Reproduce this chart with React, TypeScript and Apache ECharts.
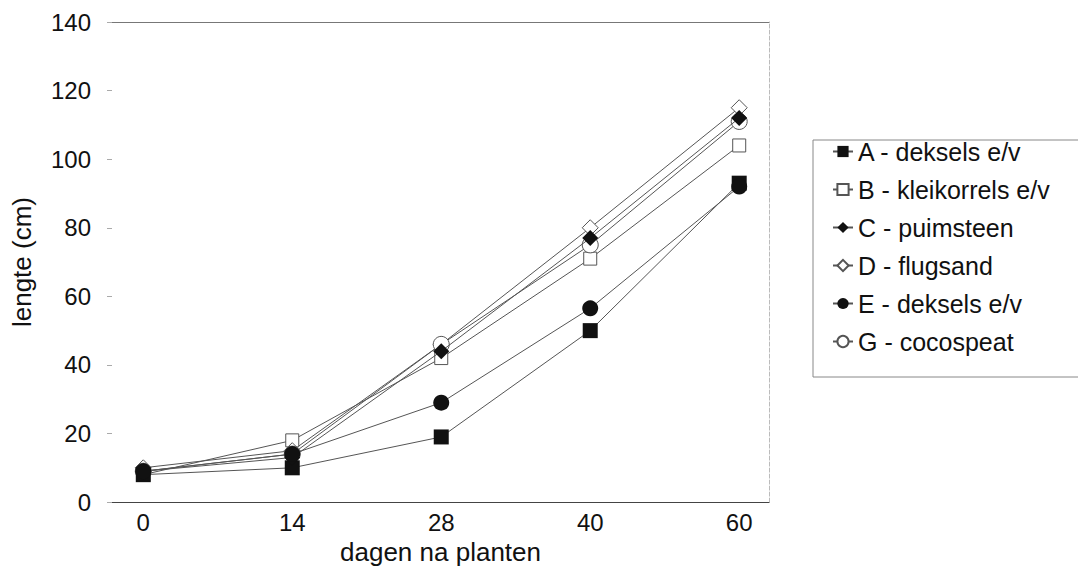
import React, { useEffect, useRef } from "react";
import * as echarts from "echarts";

const days = ["0", "14", "28", "40", "60"];
const yTicks = [0, 20, 40, 60, 80, 100, 120, 140];

const seriesNames = [
  "A - deksels e/v",
  "B - kleikorrels e/v",
  "C - puimsteen",
  "D - flugsand",
  "E - deksels e/v",
  "G - cocospeat",
];

const valuesA = [8, 10, 19, 50, 93];
const valuesB = [8, 18, 42, 71, 104];
const valuesC = [9, 13, 44, 77, 112];
const valuesD = [10, 15, 46, 80, 115];
const valuesE = [9, 14, 29, 56.5, 92];
const valuesG = [9, 14, 46, 75, 111];

const allValues = [valuesA, valuesB, valuesC, valuesD, valuesE, valuesG];
const symbols = ["rect", "rect", "diamond", "diamond", "circle", "circle"];
const filled = [true, false, true, false, true, false];
const sizes = [15, 13, 16, 16, 16, 16];

const FONT = "'Liberation Sans', Arial, Helvetica, sans-serif";

export default function App() {
  const ref = useRef<HTMLDivElement>(null);

  useEffect(() => {
    if (!ref.current) return;
    const chart = echarts.init(ref.current, null, { renderer: "svg" });

    const series = allValues.map((vals, k) => ({
      name: seriesNames[k],
      type: "line",
      data: vals.map((v, i) => [i, v]),
      symbol: symbols[k],
      symbolSize: sizes[k],
      showAllSymbol: true,
      lineStyle: { color: "#555", width: 1 },
      itemStyle: filled[k]
        ? { color: "#111", borderColor: "#111", borderWidth: 0 }
        : { color: "#fff", borderColor: "#555", borderWidth: 1 },
      emphasis: { disabled: true },
      z: filled[k] ? 3 : 2,
    }));

    chart.setOption({
      animation: false,
      backgroundColor: "#fff",
      textStyle: { fontFamily: FONT },
      grid: { left: 112, right: 309, top: 22, bottom: 67 },
      xAxis: [
        {
          type: "value",
          min: -0.21,
          max: 4.2,
          name: "dagen na planten",
          nameLocation: "middle",
          nameGap: 33,
          nameTextStyle: { fontSize: 26, color: "#111", fontFamily: FONT },
          axisLine: { show: true, onZero: false, lineStyle: { color: "#444", width: 1 } },
          axisTick: { show: false },
          splitLine: { show: false },
          axisLabel: {
            customValues: [0, 1, 2, 3, 4],
            formatter: (v: number) => days[Math.round(v)],
            fontSize: 24,
            color: "#111",
            margin: 8,
            fontFamily: FONT,
          },
        },
        {
          type: "value",
          position: "top",
          min: -0.21,
          max: 4.2,
          axisLine: { show: true, onZero: false, lineStyle: { color: "#777", width: 1 } },
          axisTick: { show: false },
          axisLabel: { show: false },
          splitLine: { show: false },
        },
      ],
      yAxis: [
        {
          type: "value",
          min: yTicks[0],
          max: yTicks[yTicks.length - 1],
          interval: 20,
          name: "lengte (cm)",
          nameLocation: "middle",
          nameGap: 77,
          nameTextStyle: { fontSize: 26, color: "#111", fontFamily: FONT },
          axisLine: { show: false, onZero: false },
          axisTick: { show: true, length: 5, lineStyle: { color: "#aaa" } },
          splitLine: { show: false },
          axisLabel: { fontSize: 24, color: "#111", margin: 21, fontFamily: FONT },
        },
        {
          type: "value",
          position: "right",
          min: 0,
          max: 140,
          interval: 20,
          axisLine: {
            show: true,
            onZero: false,
            lineStyle: { color: "#bbb", width: 1, type: "dashed" },
          },
          axisTick: { show: false },
          axisLabel: { show: false },
          splitLine: { show: false },
        },
      ],
      legend: {
        orient: "vertical",
        left: 827,
        top: 134,
        itemWidth: 20,
        itemHeight: 14,
        itemGap: 13,
        textStyle: { fontSize: 25, color: "#111", lineHeight: 25, fontFamily: FONT },
        data: seriesNames,
        selectedMode: false,
      },
      graphic: [
        {
          type: "rect",
          shape: { x: 813, y: 140, width: 300, height: 237 },
          style: { fill: "none", stroke: "#888", lineWidth: 1 },
          silent: true,
        },
      ],
      series,
    });

    return () => chart.dispose();
  }, []);

  return (
    <div
      ref={ref}
      style={{ position: "absolute", left: 0, top: 0, width: 1078, height: 570 }}
    />
  );
}
